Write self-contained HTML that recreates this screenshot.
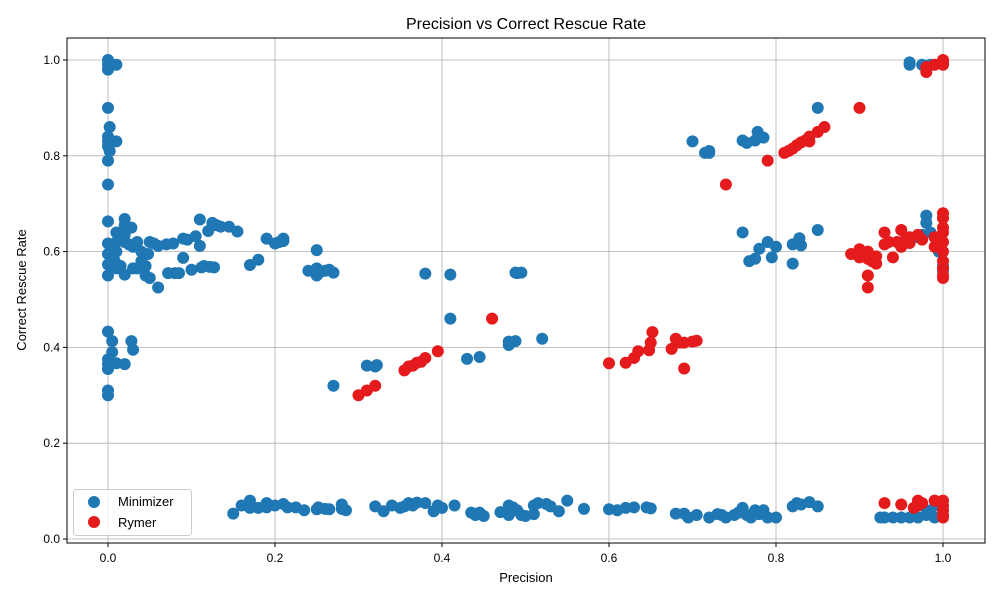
<!DOCTYPE html>
<html><head><meta charset="utf-8"><style>
body{margin:0;background:#fff;}
svg{display:block;font-family:"Liberation Sans","DejaVu Sans",sans-serif;}
</style></head><body>
<svg id="chart" width="1000" height="600">
<rect width="1000" height="600" fill="#fff"/>
<text x="526" y="29" text-anchor="middle" font-size="16">Precision vs Correct Rescue Rate</text>
<text x="526" y="582" text-anchor="middle" font-size="13">Precision</text>
<text x="26" y="290" text-anchor="middle" font-size="13" transform="rotate(-90 26 290)">Correct Rescue Rate</text>
<g id="grid"></g><g id="ticks"></g><g id="marks"></g>
<rect x="67" y="38" width="918" height="505" fill="none" stroke="#000" stroke-width="1"/>
<g>
<rect x="73.5" y="489.5" width="118" height="46" rx="3" fill="#fff" fill-opacity="0.8" stroke="#ccc"/>
<circle cx="94" cy="502" r="6" fill="#1f77b4"/>
<text x="118" y="506" font-size="13">Minimizer</text>
<circle cx="94" cy="522" r="6" fill="#e41a1c"/>
<text x="118" y="527" font-size="13">Rymer</text>
</g>
</svg>
<script>
const xTicks=[0,0.2,0.4,0.6,0.8,1.0];
const xTickLabels=["0.0","0.2","0.4","0.6","0.8","1.0"];
const yTicks=[0,0.2,0.4,0.6,0.8,1.0];
const yTickLabels=["0.0","0.2","0.4","0.6","0.8","1.0"];
const minimizerX=[0,0,0,0.005,0.01,0,0.002,0,0,0.01,0,0.002,0,0,0,0,0,0,0,0,0.005,0.005,0,0,0,0.01,0,0,
0.01,0.01,0.01,0.008,0.01,0.015,0.02,0.02,0.02,0.02,0.02,0.02,0.025,0.028,0.03,0.03,0.028,0.03,0.035,0.035,0.04,0.04,0.045,0.045,0.048,0.05,0.05,0.055,0.06,0.06,0.07,0.072,0.078,0.08,0.085,0.09,0.09,0.095,0.1,0.105,0.11,0.11,0.112,0.115,0.12,0.122,0.125,0.127,0.13,0.135,0.145,0.155,0.17,0.18,0.19,0.2,0.205,0.21,0.21,0.24,0.25,0.25,0.25,0.255,0.26,0.265,0.27,0.27,0.31,0.32,0.322,0.38,0.41,0.41,0.43,0.445,0.48,0.48,0.488,0.488,0.49,0.495,0.52,
0.7,0.715,0.72,0.72,0.76,0.76,0.765,0.775,0.778,0.78,0.785,0.768,0.775,0.79,0.795,0.8,0.82,0.82,0.825,0.828,0.83,0.85,0.85,0.96,0.96,0.975,0.98,0.985,0.97,0.975,0.98,0.98,0.985,0.99,0.995,1.0,1.0,
0.15,0.16,0.17,0.17,0.18,0.19,0.19,0.2,0.21,0.215,0.225,0.235,0.25,0.252,0.26,0.265,0.28,0.28,0.285,0.32,0.33,0.34,0.35,0.355,0.36,0.365,0.37,0.38,0.39,0.395,0.4,0.415,0.435,0.44,0.445,0.45,0.47,0.48,0.48,0.485,0.49,0.495,0.5,0.51,0.51,0.515,0.525,0.53,0.54,0.55,0.57,0.6,0.61,0.62,0.63,0.645,0.65,0.68,0.69,0.695,0.705,0.72,0.73,0.735,0.74,0.75,0.755,0.76,0.765,0.77,0.775,0.78,0.785,0.79,0.8,0.82,0.825,0.83,0.84,0.85,0.925,0.93,0.94,0.95,0.96,0.97,0.98,0.99,1.0,0.975,0.985,0.995];
const minimizerY=[1.0,0.99,0.98,0.99,0.99,0.9,0.86,0.84,0.83,0.83,0.82,0.81,0.79,0.74,0.663,0.617,0.595,0.573,0.55,0.433,0.413,0.39,0.375,0.365,0.355,0.367,0.31,0.3,
0.64,0.62,0.6,0.58,0.565,0.57,0.668,0.655,0.635,0.62,0.552,0.365,0.615,0.65,0.61,0.565,0.413,0.395,0.62,0.565,0.6,0.58,0.57,0.55,0.595,0.62,0.545,0.617,0.525,0.612,0.615,0.555,0.617,0.555,0.555,0.627,0.587,0.625,0.562,0.632,0.667,0.612,0.567,0.57,0.643,0.568,0.66,0.567,0.655,0.652,0.652,0.642,0.572,0.583,0.627,0.617,0.62,0.627,0.622,0.56,0.603,0.565,0.55,0.558,0.56,0.562,0.556,0.32,0.362,0.36,0.363,0.554,0.552,0.46,0.376,0.38,0.405,0.412,0.413,0.556,0.555,0.556,0.418,
0.83,0.806,0.81,0.806,0.64,0.832,0.827,0.832,0.85,0.606,0.838,0.58,0.585,0.62,0.588,0.61,0.575,0.615,0.618,0.628,0.613,0.645,0.9,0.99,0.995,0.99,0.988,0.99,0.63,0.635,0.675,0.66,0.64,0.63,0.6,0.57,0.56,
0.053,0.07,0.08,0.065,0.065,0.075,0.066,0.07,0.073,0.066,0.066,0.06,0.062,0.066,0.063,0.062,0.063,0.072,0.06,0.068,0.058,0.07,0.065,0.068,0.075,0.07,0.076,0.075,0.058,0.07,0.065,0.07,0.055,0.05,0.055,0.048,0.056,0.07,0.05,0.066,0.06,0.05,0.048,0.07,0.052,0.075,0.073,0.068,0.058,0.08,0.063,0.062,0.06,0.065,0.066,0.066,0.064,0.053,0.053,0.045,0.05,0.045,0.052,0.05,0.045,0.05,0.055,0.065,0.05,0.045,0.06,0.052,0.06,0.045,0.045,0.068,0.075,0.072,0.077,0.068,0.045,0.045,0.045,0.045,0.045,0.045,0.05,0.045,0.06,0.07,0.06,0.07];
const rymerX=[0.3,0.31,0.32,0.355,0.36,0.365,0.37,0.375,0.38,0.395,0.46,0.6,0.62,0.63,0.635,0.648,0.65,0.652,0.675,0.68,0.685,0.69,0.69,0.7,0.705,0.74,0.79,0.81,0.815,0.82,0.825,0.83,0.835,0.84,0.84,0.85,0.858,0.9,0.89,0.9,0.9,0.91,0.91,0.91,0.91,0.915,0.92,0.92,0.93,0.93,0.935,0.94,0.945,0.95,0.95,0.955,0.96,0.96,0.97,0.975,0.99,0.99,1.0,1.0,1.0,1.0,1.0,1.0,1.0,1.0,1.0,1.0,0.98,0.98,0.99,1.0,1.0,1.0,0.93,0.95,0.97,0.97,0.975,0.99,1.0,1.0,1.0,1.0,1.0,0.965];
const rymerY=[0.3,0.31,0.32,0.352,0.36,0.362,0.368,0.37,0.378,0.392,0.46,0.367,0.368,0.378,0.392,0.394,0.41,0.432,0.397,0.418,0.41,0.356,0.41,0.412,0.414,0.74,0.79,0.806,0.81,0.815,0.822,0.828,0.832,0.84,0.83,0.85,0.86,0.9,0.595,0.605,0.588,0.6,0.585,0.525,0.55,0.58,0.59,0.575,0.64,0.615,0.62,0.588,0.62,0.645,0.61,0.625,0.63,0.618,0.635,0.625,0.63,0.61,0.68,0.67,0.65,0.64,0.62,0.6,0.58,0.565,0.55,0.545,0.985,0.975,0.99,1.0,0.995,0.99,0.075,0.072,0.07,0.08,0.075,0.08,0.08,0.07,0.06,0.05,0.045,0.065];

const NS="http://www.w3.org/2000/svg";
function sx(v){return 108+v*835;}
function sy(v){return 539-v*479;}
const grid=document.getElementById('grid'),ticks=document.getElementById('ticks'),marks=document.getElementById('marks');
function mk(tag,attrs,parent){const e=document.createElementNS(NS,tag);for(const k in attrs)e.setAttribute(k,attrs[k]);parent.appendChild(e);return e;}
xTicks.forEach((t,i)=>{
  const x=sx(t);
  const g=mk('line',{x1:x,x2:x,y1:38,y2:543,stroke:'#b0b0b0','stroke-width':0.8},grid);
  
  
  mk('line',{x1:x,x2:x,y1:543,y2:547,stroke:'#000'},ticks);
  const tx=mk('text',{x:x,y:562,'text-anchor':'middle','font-size':12},ticks);
  tx.textContent=xTickLabels[i];
  
  
});
yTicks.forEach((t,i)=>{
  const y=sy(t);
  const g=mk('line',{x1:67,x2:985,y1:y,y2:y,stroke:'#b0b0b0','stroke-width':0.8},grid);
  
  
  mk('line',{x1:63,x2:67,y1:y,y2:y,stroke:'#000'},ticks);
  const tx=mk('text',{x:60,y:y+4,'text-anchor':'end','font-size':12},ticks);
  tx.textContent=yTickLabels[i];
  
  
});
minimizerX.forEach((v,i)=>{
  const c=mk('circle',{cx:sx(v),cy:sy(minimizerY[i]),r:6,fill:'#1f77b4'},marks);
  
  
});
rymerX.forEach((v,i)=>{
  const c=mk('circle',{cx:sx(v),cy:sy(rymerY[i]),r:6,fill:'#e41a1c'},marks);
  
  
});
</script>
</body></html>
